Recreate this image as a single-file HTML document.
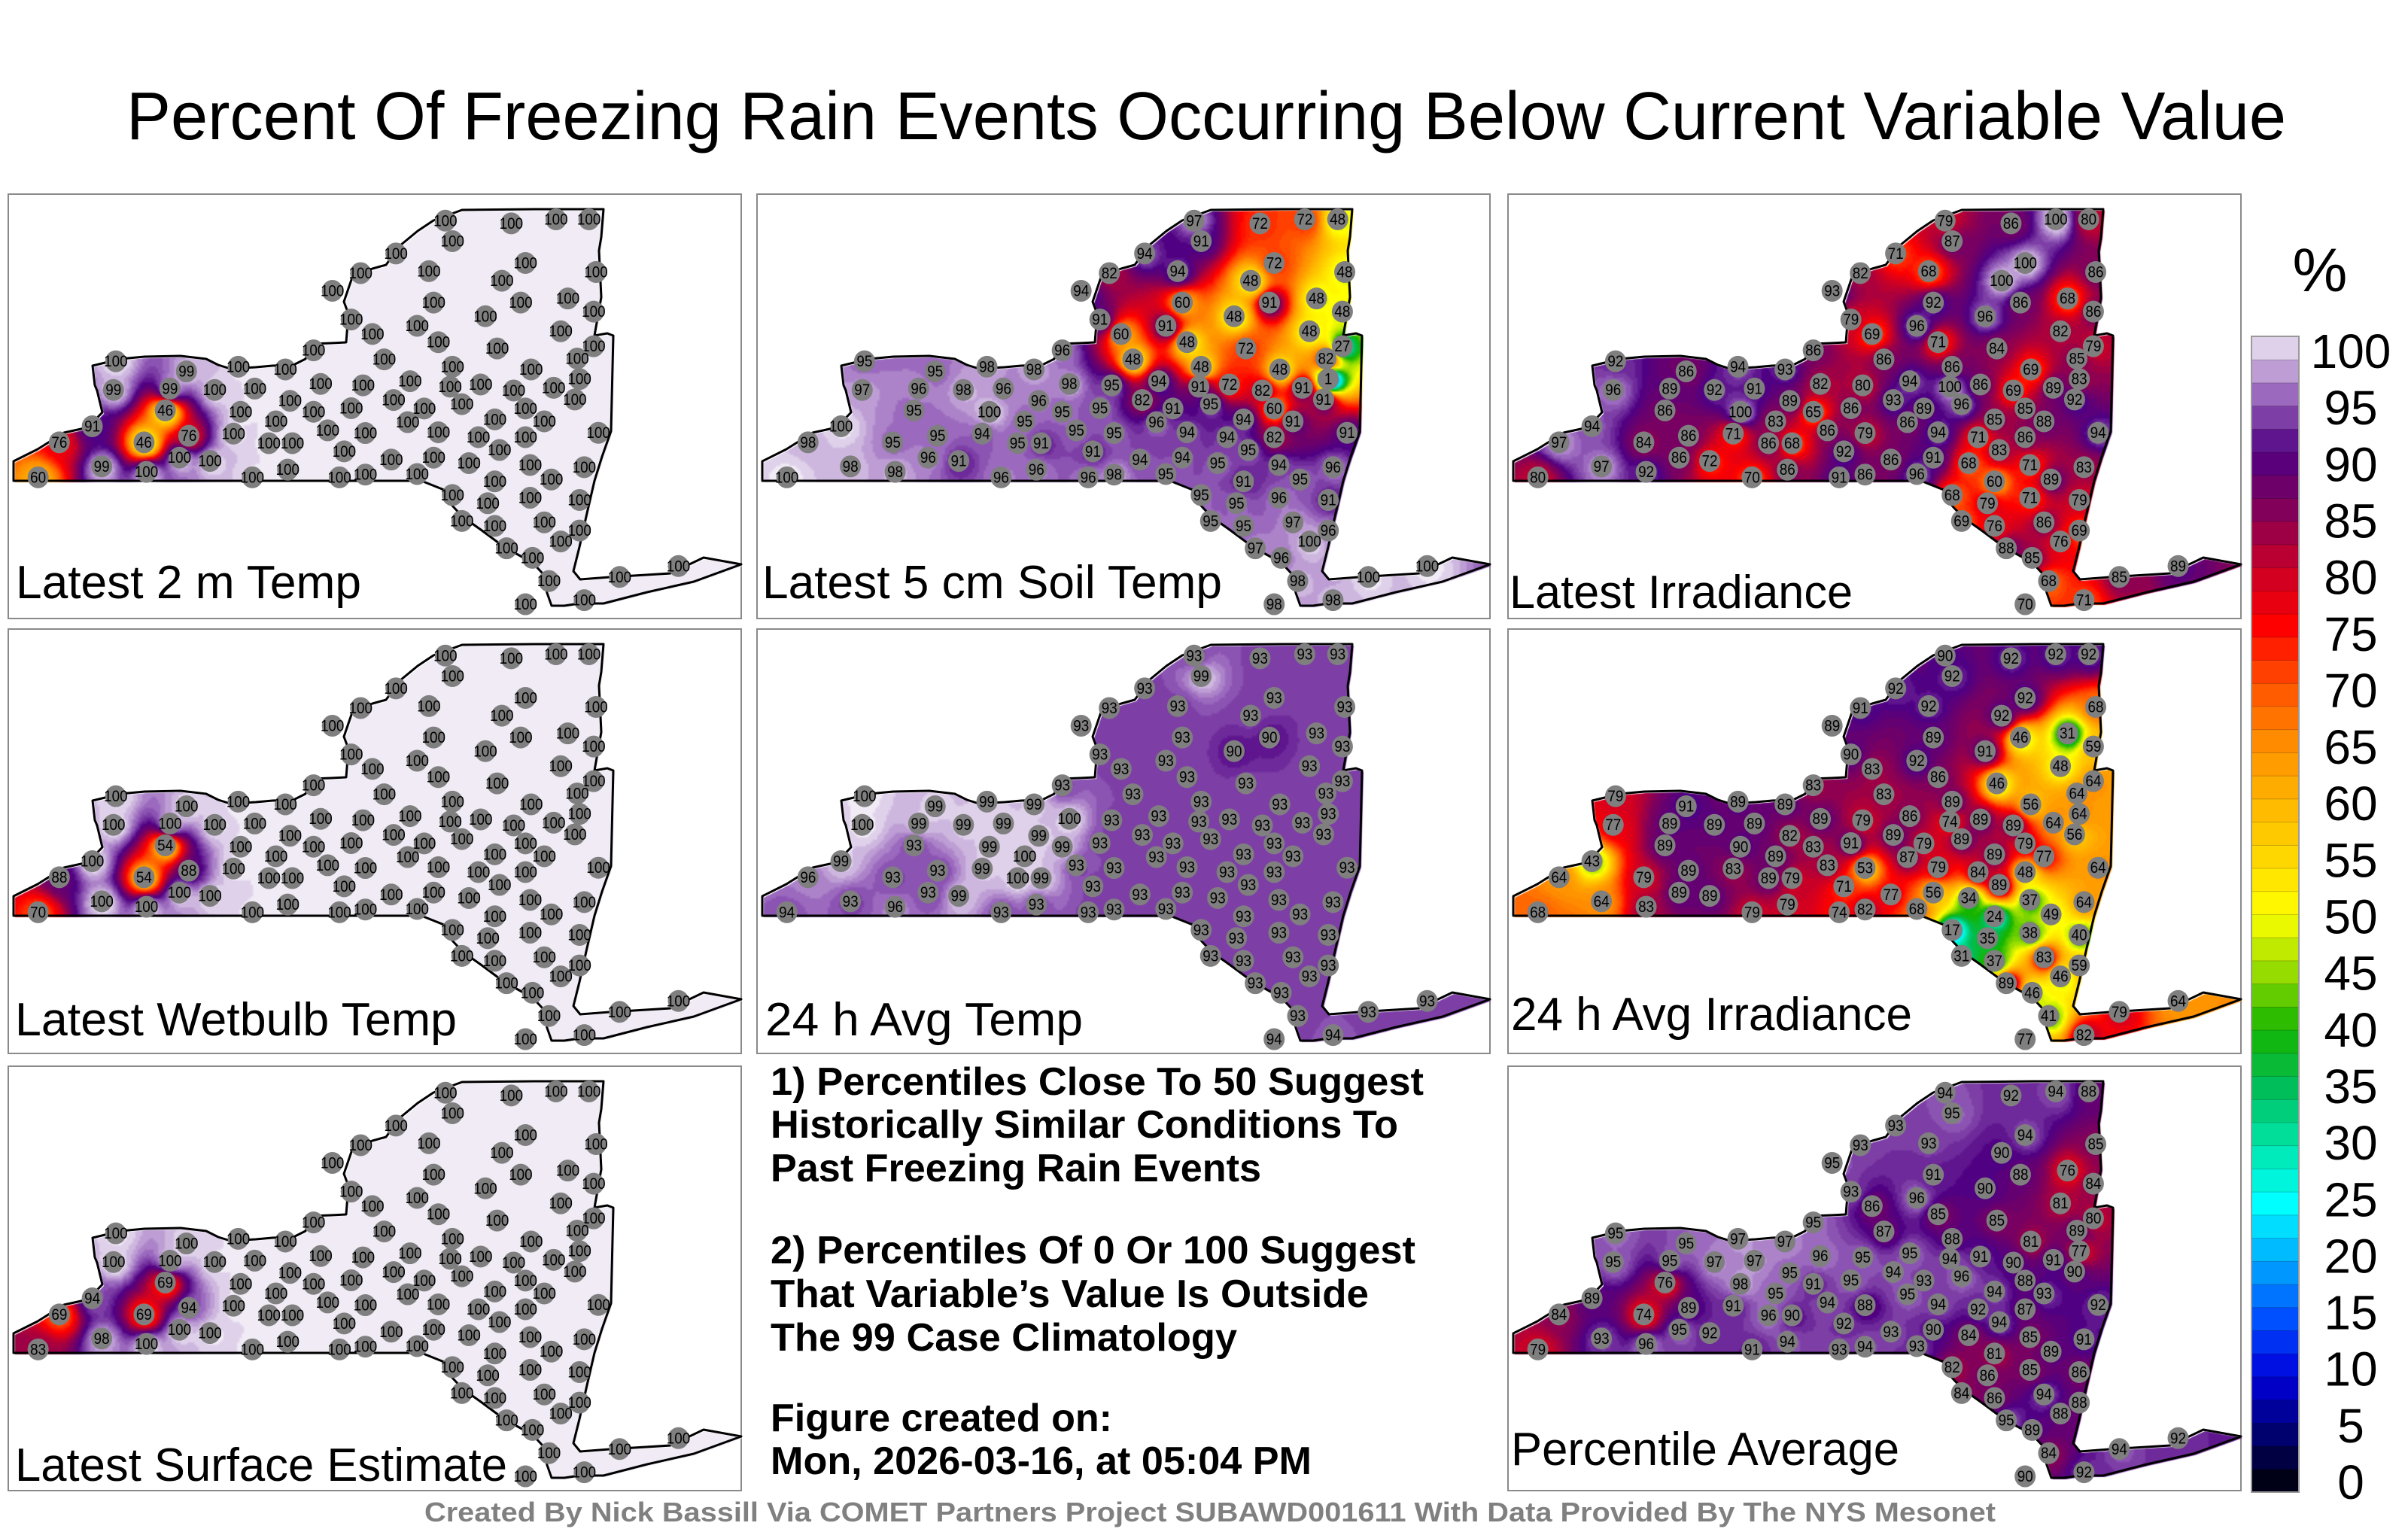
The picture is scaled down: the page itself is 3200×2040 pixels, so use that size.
<!DOCTYPE html>
<html><head><meta charset="utf-8">
<style>
html,body{margin:0;padding:0;background:#fff;}
body{width:3200px;height:2040px;position:relative;overflow:hidden;font-family:"Liberation Sans",sans-serif;}
.panel{position:absolute;width:976px;height:566px;box-sizing:border-box;border:2px solid #8a8a8a;background:#fff;}
.panel canvas{position:absolute;left:0;top:0;}
#overlay{position:absolute;left:0;top:0;}
</style></head>
<body>
<div class="panel" style="left:10px;top:257px"><canvas id="c0" width="976" height="566"></canvas></div>
<div class="panel" style="left:1005px;top:257px"><canvas id="c1" width="976" height="566"></canvas></div>
<div class="panel" style="left:2003px;top:257px"><canvas id="c2" width="976" height="566"></canvas></div>
<div class="panel" style="left:10px;top:835px"><canvas id="c3" width="976" height="566"></canvas></div>
<div class="panel" style="left:1005px;top:835px"><canvas id="c4" width="976" height="566"></canvas></div>
<div class="panel" style="left:2003px;top:835px"><canvas id="c5" width="976" height="566"></canvas></div>
<div class="panel" style="left:10px;top:1416px"><canvas id="c6" width="976" height="566"></canvas></div>
<div class="panel" style="left:2003px;top:1416px"><canvas id="c7" width="976" height="566"></canvas></div>

<svg id="overlay" width="3200" height="2040" xmlns="http://www.w3.org/2000/svg">
  <text x="168" y="185" font-size="90" textLength="2870" lengthAdjust="spacingAndGlyphs" font-family="Liberation Sans, sans-serif">Percent Of Freezing Rain Events Occurring Below Current Variable Value</text>
  <g id="maps"></g>
  <g font-family="Liberation Sans, sans-serif" font-weight="bold" font-size="52">
    <text x="1024" y="1455" textLength="868" lengthAdjust="spacingAndGlyphs">1) Percentiles Close To 50 Suggest</text>
    <text x="1024" y="1512" textLength="834" lengthAdjust="spacingAndGlyphs">Historically Similar Conditions To</text>
    <text x="1024" y="1570" textLength="652" lengthAdjust="spacingAndGlyphs">Past Freezing Rain Events</text>
    <text x="1024" y="1679" textLength="857" lengthAdjust="spacingAndGlyphs">2) Percentiles Of 0 Or 100 Suggest</text>
    <text x="1024" y="1737" textLength="795" lengthAdjust="spacingAndGlyphs">That Variable’s Value Is Outside</text>
    <text x="1024" y="1795" textLength="620" lengthAdjust="spacingAndGlyphs">The 99 Case Climatology</text>
    <text x="1024" y="1902" textLength="454" lengthAdjust="spacingAndGlyphs">Figure created on:</text>
    <text x="1024" y="1959" textLength="719" lengthAdjust="spacingAndGlyphs">Mon, 2026-03-16, at 05:04 PM</text>
  </g>
  <text x="564" y="2022" font-size="36" font-weight="bold" fill="#808080" textLength="2088" lengthAdjust="spacingAndGlyphs" font-family="Liberation Sans, sans-serif">Created By Nick Bassill Via COMET Partners Project SUBAWD001611 With Data Provided By The NYS Mesonet</text>
  <g id="cbar"></g>
  <text x="3083" y="387" font-size="82" text-anchor="middle" font-family="Liberation Sans, sans-serif">%</text>
</svg>

<script>
// ---------- data ----------
const stationX=[930,1070,1165,1235,945,825,895,1100,1050,1250,750,690,905,1090,1190,730,870,1015,1245,775,915,1040,1175,1245,650,800,945,1112,1210,1215,230,380,490,590,225,345,440,525,665,755,855,940,1005,1075,1160,335,495,600,820,1100,1205,180,385,290,110,480,570,650,730,885,965,1035,1140,680,760,850,915,1000,1100,1255,365,430,200,295,65,555,605,715,815,905,980,1045,1110,1225,520,595,705,760,870,1035,1155,945,1020,1110,1215,965,1035,1140,1215,1060,1175,1115,1300,1425,1150,1225,1100];
const stationY=[100,110,95,95,175,220,285,255,320,288,292,357,400,400,385,462,485,450,433,515,545,568,505,560,575,608,635,645,605,680,615,652,635,645,720,715,720,715,698,703,688,708,700,722,712,795,800,760,757,788,755,853,888,912,912,880,835,800,787,788,772,828,835,868,878,838,875,893,893,877,968,980,1000,1020,1040,915,915,945,975,968,988,940,995,1003,1040,1012,1040,1030,1028,1055,1048,1105,1135,1115,1123,1200,1218,1205,1235,1300,1275,1335,1405,1365,1420,1490,1505];

const temp2m=[100,100,100,100,100,100,100,100,100,100, 100,100,100,100,100,100,100,100,100,100, 100,100,100,100,100,100,100,100,100,100, 100,99,100,100,99,99,100,100,100,100, 100,100,100,100,100,46,100,100,100,100, 100,91,76,46,76,100,100,100,100,100, 100,100,100,100,100,100,100,100,100,100, 100,100,99,100,60,100,100,100,100,100, 100,100,100,100,100,100,100,100,100,100, 100,100,100,100,100,100,100,100,100,100, 100,100,100,100,100,100,100];
const soilTemp=[97,72,72,48,91,94,94,72,48,48, 82,94,60,91,48,91,91,48,48,60, 48,72,48,27,96,48,48,48,82,1, 95,95,98,98,97,96,98,96,98,95, 94,91,72,82,91,95,100,96,82,60, 91,100,95,95,98,94,95,95,95,91, 95,94,91,95,95,96,94,94,82,91, 96,91,98,98,100,95,91,91,94,94, 95,95,94,96,96,96,96,98,95,91, 95,95,95,96,91,95,95,97,96,97, 100,96,100,100,98,98,98];
const irradiance=[79,86,100,80,87,71,68,100,100,86, 82,93,92,86,68,79,96,96,86,69, 71,84,82,79,86,86,86,69,85,83, 92,86,94,93,96,89,92,91,82,80, 94,100,86,69,89,86,100,89,93,85, 92,94,86,84,97,71,83,65,86,89, 96,85,88,86,79,86,94,71,86,94, 86,72,97,92,80,86,68,92,86,91, 68,83,71,83,70,86,91,86,96,60, 89,68,79,71,79,69,76,86,69,88, 76,85,85,89,68,71,70];
const wetbulb=[100,100,100,100,100,100,100,100,100,100, 100,100,100,100,100,100,100,100,100,100, 100,100,100,100,100,100,100,100,100,100, 100,100,100,100,100,100,100,100,100,100, 100,100,100,100,100,54,100,100,100,100, 100,100,88,54,88,100,100,100,100,100, 100,100,100,100,100,100,100,100,100,100, 100,100,100,100,70,100,100,100,100,100, 100,100,100,100,100,100,100,100,100,100, 100,100,100,100,100,100,100,100,100,100, 100,100,100,100,100,100,100];
const avgTemp=[93,93,93,93,99,93,93,93,93,93, 93,93,93,90,93,93,93,90,93,93, 93,93,93,93,93,93,93,93,93,93, 100,99,99,99,100,99,99,99,100,93, 93,93,93,93,93,93,99,99,93,93, 93,99,93,93,96,99,100,99,93,93, 93,93,93,93,93,93,93,93,93,93, 93,99,93,96,94,100,99,93,93,93, 93,93,93,93,93,93,93,93,93,93, 93,93,93,93,93,93,93,93,93,93, 93,93,93,93,93,94,94];
const avgIrradiance=[90,92,92,92,92,92,92,92,92,68, 91,89,89,46,31,90,92,91,59,83, 86,46,48,64,83,83,89,56,64,64, 79,91,89,89,77,89,89,89,89,79, 86,74,89,89,64,89,90,82,89,79, 56,43,89,79,64,83,89,83,91,79, 89,89,77,83,53,87,79,84,48,64, 89,89,64,83,68,89,79,71,77,56, 34,89,37,64,79,79,74,82,68,24, 49,17,35,38,40,31,37,83,59,89, 46,46,79,64,41,82,77];
const surfaceEst=[100,100,100,100,100,100,100,100,100,100, 100,100,100,100,100,100,100,100,100,100, 100,100,100,100,100,100,100,100,100,100, 100,100,100,100,100,100,100,100,100,100, 100,100,100,100,100,69,100,100,100,100, 100,94,94,69,69,100,100,100,100,100, 100,100,100,100,100,100,100,100,100,100, 100,100,98,100,83,100,100,100,100,100, 100,100,100,100,100,100,100,100,100,100, 100,100,100,100,100,100,100,100,100,100, 100,100,100,100,100,100,100];
const pctAverage=[94,92,94,88,95,93,93,94,90,85, 93,95,91,88,76,93,96,90,84,86, 85,85,81,80,95,87,88,81,89,77, 95,95,97,97,95,95,97,97,96,95, 95,94,91,90,91,76,98,95,94,88, 90,89,89,74,84,91,95,91,95,93, 96,94,93,94,88,95,94,92,87,92, 95,92,93,96,79,96,90,92,93,90, 84,94,85,91,91,94,93,94,93,81, 89,82,86,85,86,84,86,94,88,95, 88,89,94,92,84,92,90];

const panelLabels=["Latest 2 m Temp","Latest 5 cm Soil Temp","Latest Irradiance","Latest Wetbulb Temp","24 h Avg Temp","24 h Avg Irradiance","Latest Surface Estimate","Percentile Average"];
const panelSeries=[temp2m,soilTemp,irradiance,wetbulb,avgTemp,avgIrradiance,surfaceEst,pctAverage];
const colorbarTicks=[0,5,10,15,20,25,30,35,40,45,50,55,60,65,70,75,80,85,90,95,100];

// ---------- layout ----------
const panelPos=[[10,257],[1005,257],[2003,257],[10,835],[1005,835],[2003,835],[10,1416],[2003,1416]];
const labelGeom=[[11,538,459],[8,538,611],[3,551,456],[10,541,587],[12,541,422],[5,534,533],[10,552,654],[5,531,516]];
const nyPath="M8,382 L8,356 L40,340 L75,318 L107,311 L126,291 L119,262 L116,255 L113,229 L150,220 L182,217 L230,216 L264,220 L280,228 L296,233 L330,231 L352,229 L380,228 L396,220 L403,200 L430,199 L450,198 L453,160 L447,144 L459,109 L485,100 L503,95 L522,69 L545,50 L566,36 L604,22 L700,21 L792,21 L789,58 L786,76 L789,138 L780,189 L797,186 L805,189 L802,316 L790,350 L780,382 L770,425 L760,470 L752,502 L761,513 L800,510 L881,505 L925,484 L975,493 L912,516 L850,530 L792,545 L760,545 L740,548 L723,548 L717,531 L711,505 L698,491 L660,470 L629,447 L605,430 L591,415 L585,396 L550,382 Z";
const SX=976/1560, SY=566/1560;
const sx=v=>v*SX, sy=v=>v*SY;

const stops=[[0,[0,0,0]],[5,[0,0,110]],[10,[0,0,220]],[15,[0,80,255]],[20,[0,170,255]],[25,[0,255,255]],[30,[0,230,170]],[35,[0,190,90]],[40,[20,180,0]],[45,[150,220,0]],[50,[255,255,0]],[55,[255,215,0]],[60,[255,180,0]],[65,[255,140,0]],[70,[255,80,0]],[75,[255,0,0]],[80,[200,0,40]],[85,[130,0,90]],[90,[80,0,130]],[95,[155,105,190]],[100,[240,235,245]]];
function cmap(v){
  v=Math.max(0,Math.min(100,v));
  for(let i=1;i<stops.length;i++){
    if(v<=stops[i][0]){const a=stops[i-1],b=stops[i];const t=(v-a[0])/(b[0]-a[0]);
      return [0,1,2].map(k=>Math.round(a[1][k]+(b[1][k]-a[1][k])*t));}
  }
  return stops[stops.length-1][1];
}
const rgb=c=>`rgb(${c[0]},${c[1]},${c[2]})`;

// ---------- fields ----------
const CELL=3, GW=Math.ceil(976/CELL), GH=Math.ceil(566/CELL);
const px=stationX.map(sx), py=stationY.map(sy);
panelSeries.forEach((vals,pi)=>{
  const off=document.createElement('canvas'); off.width=GW; off.height=GH;
  const octx=off.getContext('2d'); const img=octx.createImageData(GW,GH);
  for(let j=0;j<GH;j++){const y=j*CELL+CELL/2;
    for(let i=0;i<GW;i++){const x=i*CELL+CELL/2;let ws=0,vs=0;
      for(let k=0;k<px.length;k++){const dx=x-px[k],dy=y-py[k];const w=Math.pow(dx*dx+dy*dy+60,-1.4);ws+=w;vs+=w*vals[k];}
      const c=cmap(Math.round(vs/ws));const o=(j*GW+i)*4;img.data[o]=c[0];img.data[o+1]=c[1];img.data[o+2]=c[2];img.data[o+3]=255;}}
  octx.putImageData(img,0,0);
  const ctx=document.getElementById('c'+pi).getContext('2d');
  ctx.save();ctx.clip(new Path2D(nyPath));ctx.imageSmoothingEnabled=true;ctx.drawImage(off,0,0,GW*CELL,GH*CELL);ctx.restore();
});

// ---------- overlay ----------
const NS="http://www.w3.org/2000/svg";
const maps=document.getElementById('maps');
function mk(tag,attrs,parent){const e=document.createElementNS(NS,tag);for(const k in attrs)e.setAttribute(k,attrs[k]);parent.appendChild(e);return e;}
panelSeries.forEach((vals,pi)=>{
  const [ox,oy]=panelPos[pi];
  const g=mk('g',{transform:`translate(${ox},${oy})`},maps);
  
  
  const outline=mk('path',{d:nyPath,fill:'none',stroke:'#000','stroke-width':3,'stroke-linejoin':'round'},g);
  
  
  vals.forEach((v,k)=>{
    const st=mk('g',{},g);
    
    
    mk('ellipse',{cx:px[k],cy:py[k],rx:14,ry:14.5,fill:'#7f7f7f'},st);
    const s=String(v);
    const t=mk('text',{x:px[k],y:py[k]+7,'text-anchor':'middle','font-size':21,'font-family':'Liberation Sans Narrow, Liberation Sans, sans-serif',textLength:s.length*10.5,lengthAdjust:'spacingAndGlyphs',fill:'#000'},st);
    t.textContent=s;
  });
  const [lx,ly,lw]=labelGeom[pi];
  const lab=mk('text',{x:lx,y:ly,'font-size':62,'font-family':'Liberation Sans, sans-serif',textLength:lw,lengthAdjust:'spacingAndGlyphs',fill:'#000'},g);
  
  
  lab.textContent=panelLabels[pi];
});

// colorbar
const cb=document.getElementById('cbar');
const cbX=2992,cbW=63,cbTop=447,cbBot=1983;
const cy=v=>cbBot-(v/100)*(cbBot-cbTop);
const ly=v=>1969-(v/100)*(1969-466);
for(let v=0;v<100;v+=2){
  const r=mk('rect',{x:cbX,y:cy(v+2),width:cbW,height:cy(v)-cy(v+2)+0.5,fill:rgb(cmap(v+1)),stroke:'rgba(0,0,0,0.25)','stroke-width':0.8},cb);
  
  
}
mk('rect',{x:cbX,y:cbTop,width:cbW,height:cbBot-cbTop,fill:'none',stroke:'#999','stroke-width':2},cb);
colorbarTicks.forEach(v=>{
  const t=mk('text',{x:3124,y:ly(v)+23,'text-anchor':'middle','font-size':64,'font-family':'Liberation Sans, sans-serif'},cb);
  
  
  t.textContent=String(v);
});
</script>
</body></html>
